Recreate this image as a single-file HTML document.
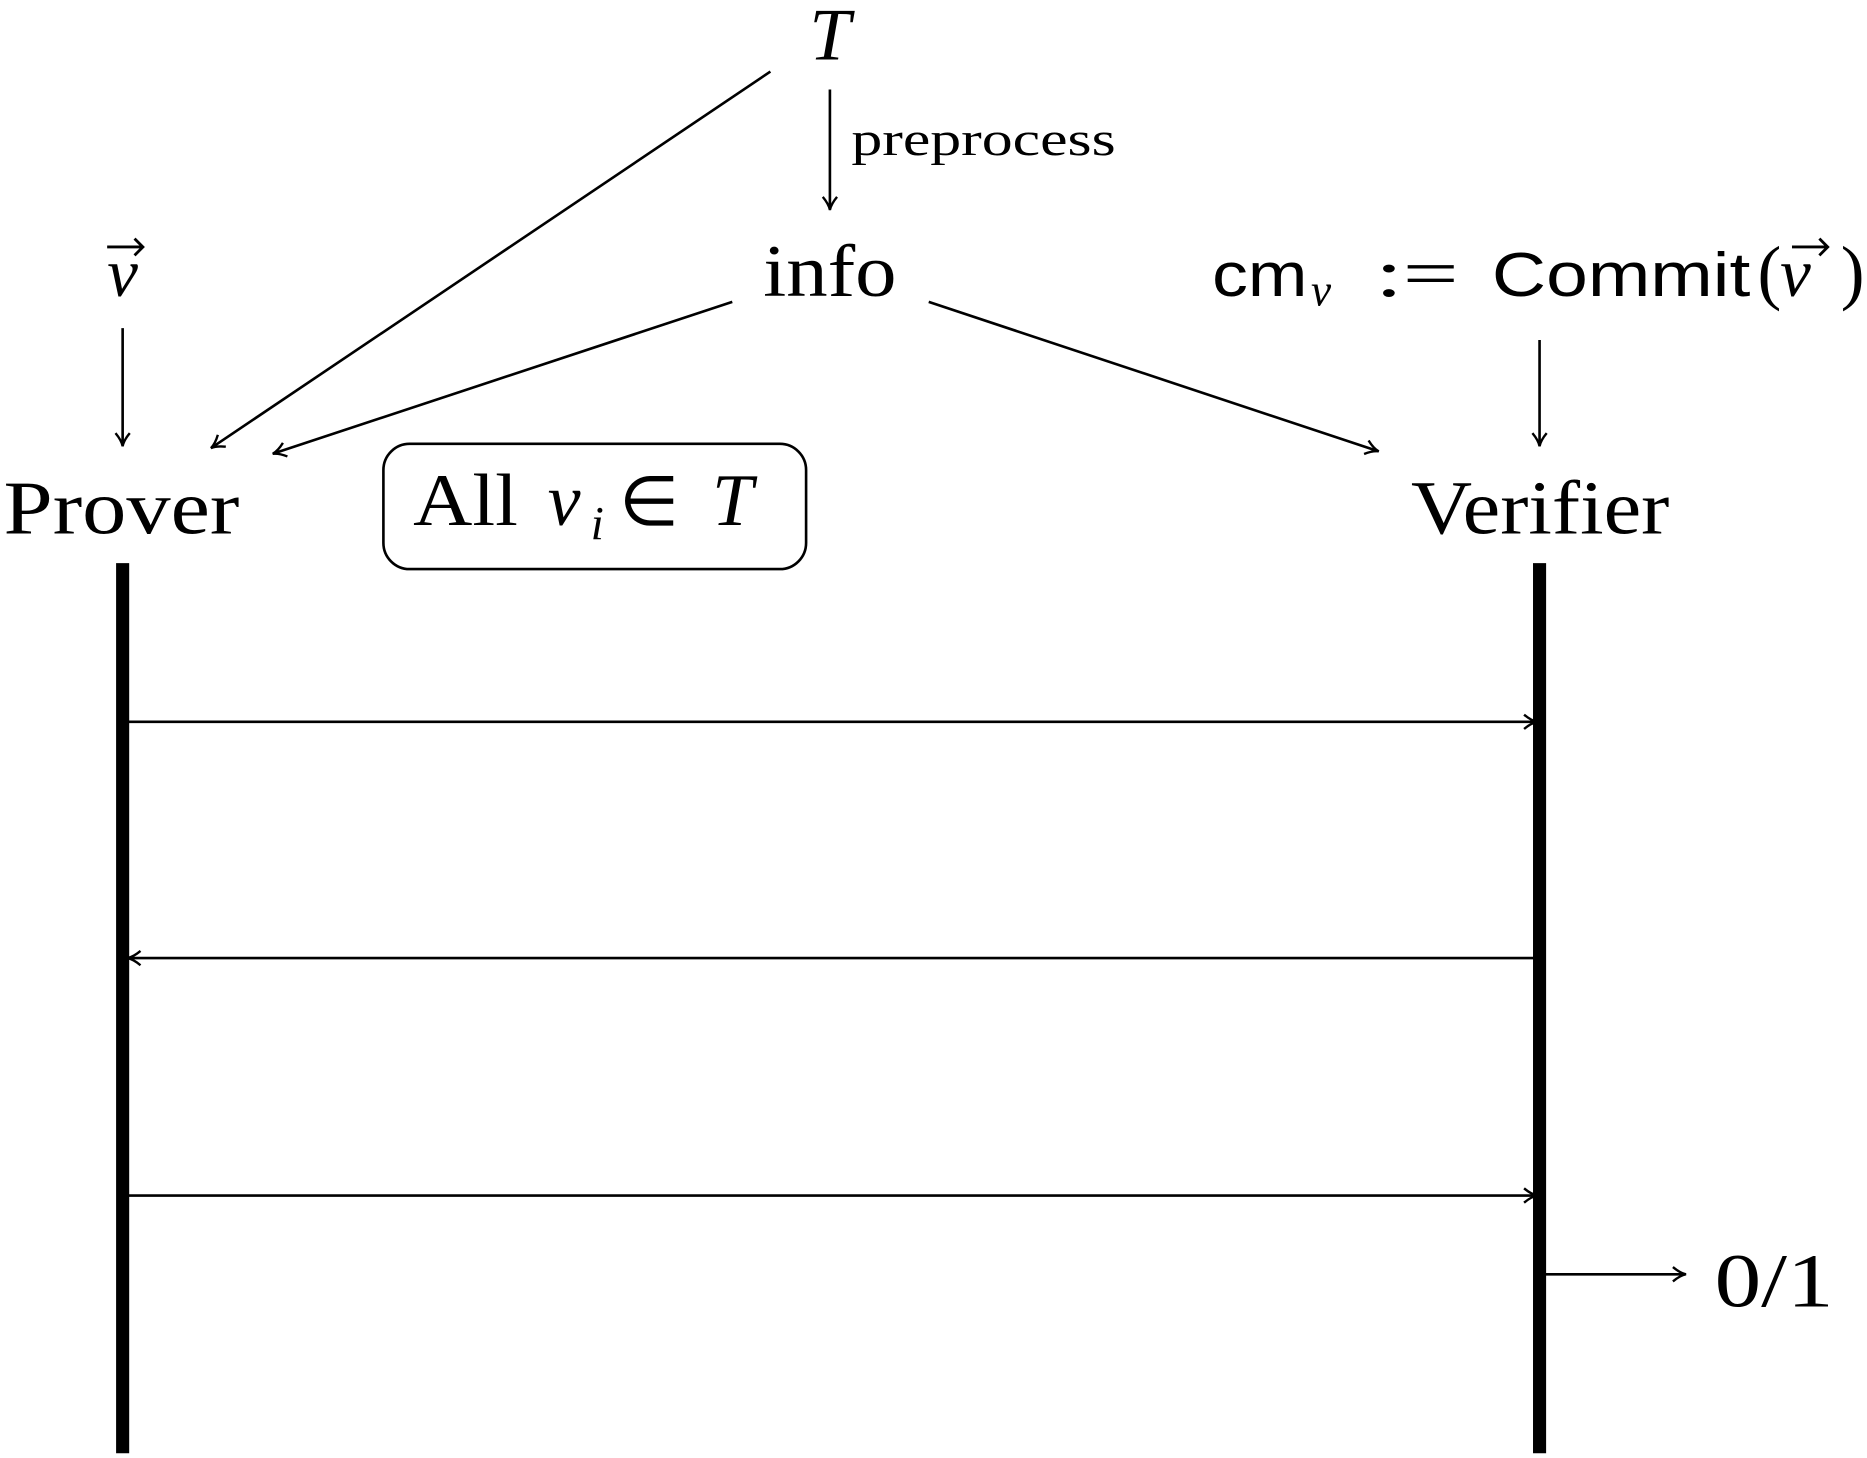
<!DOCTYPE html>
<html><head><meta charset="utf-8"><style>
html,body{margin:0;padding:0;background:#fff;}
svg{display:block;}
text{font-family:"Liberation Serif",serif;fill:#000;}
.sans{font-family:"Liberation Sans",sans-serif;}
</style></head><body>
<svg id="d" width="1867" height="1458" viewBox="0 0 1568 1222" preserveAspectRatio="none" xmlns="http://www.w3.org/2000/svg">
<defs><marker id="ah" markerWidth="14" markerHeight="14" refX="12" refY="7" orient="auto" markerUnits="userSpaceOnUse"><path d="M2,1 Q8,6 13,7 Q8,8 2,13" fill="none" stroke="#000" stroke-width="2"/></marker></defs>
<g stroke="#000" stroke-width="2.2" fill="none" marker-end="url(#ah)">
<line x1="647" y1="60" x2="178" y2="375"/>
<line x1="697" y1="75" x2="697" y2="175"/>
<line x1="615" y1="253" x2="230" y2="380"/>
<line x1="780" y1="253" x2="1157" y2="378"/>
<line x1="103" y1="275" x2="103" y2="373"/>
<line x1="1293" y1="285" x2="1293" y2="373"/>
<line x1="1298" y1="1068" x2="1415" y2="1068"/>
</g>
<text x="697" y="50" font-size="62" font-style="italic" text-anchor="middle">T</text>
<text x="715" y="130" font-size="40" textLength="222" lengthAdjust="spacingAndGlyphs">preprocess</text>
<text x="641" y="248" font-size="62" textLength="112" lengthAdjust="spacingAndGlyphs">info</text>
<text x="103" y="248" font-size="58" font-style="italic" text-anchor="middle">v</text>
<path d="M90,207 L120,207 M113,200 L120,207 L113,214" stroke="#000" stroke-width="2.4" fill="none"/>
<g>
<text class="sans" x="1018" y="248" font-size="52" textLength="80" lengthAdjust="spacingAndGlyphs">cm</text>
<text x="1101" y="256" font-size="38" font-style="italic">v</text>
<text x="1155" y="248" font-size="56" textLength="70" lengthAdjust="spacingAndGlyphs">:=</text>
<text class="sans" x="1253" y="248" font-size="52" textLength="217" lengthAdjust="spacingAndGlyphs">Commit</text>
<text x="1476" y="248" font-size="60">(</text>
<text x="1495" y="248" font-size="58" font-style="italic">v</text>
<text x="1546" y="248" font-size="60">)</text>
<path d="M1505,207 L1535,207 M1528,200 L1535,207 L1528,214" stroke="#000" stroke-width="2.4" fill="none"/>
</g>
<text x="3" y="447" font-size="64" textLength="198" lengthAdjust="spacingAndGlyphs">Prover</text>
<text x="1185" y="447" font-size="64" textLength="217" lengthAdjust="spacingAndGlyphs">Verifier</text>
<rect x="322" y="372" width="355" height="105" rx="22" fill="none" stroke="#000" stroke-width="2.2"/>
<g>
<text x="347" y="440" font-size="62" textLength="88" lengthAdjust="spacingAndGlyphs">All</text>
<text x="460" y="440" font-size="62" font-style="italic">v</text>
<text x="496" y="452" font-size="40" font-style="italic">i</text>
<text x="520" y="440" font-size="58">∈</text>
<text x="598" y="440" font-size="62" font-style="italic">T</text>
</g>
<line x1="103" y1="472" x2="103" y2="1218" stroke="#000" stroke-width="11"/>
<line x1="1293" y1="472" x2="1293" y2="1218" stroke="#000" stroke-width="11"/>
<g id="msgs"></g>
<text x="1440" y="1095" font-size="64" textLength="100" lengthAdjust="spacingAndGlyphs">0/1</text>
</svg>
<script>
const msgY = [605, 803, 1002];
const msgDir = ["right", "left", "right"];
const proverX = 108, verifierX = 1290;
const g = document.getElementById('msgs');
msgY.forEach((y, i) => {
  const l = document.createElementNS('http://www.w3.org/2000/svg', 'line');
  const r = msgDir[i] === 'right';
  l.setAttribute('x1', r ? proverX : verifierX);
  l.setAttribute('x2', r ? verifierX : proverX);
  l.setAttribute('y1', y); l.setAttribute('y2', y);
  l.setAttribute('stroke', '#000'); l.setAttribute('stroke-width', '2.2');
  l.setAttribute('marker-end', 'url(#ah)');
  
  
  g.appendChild(l);
});
</script>
</body></html>
